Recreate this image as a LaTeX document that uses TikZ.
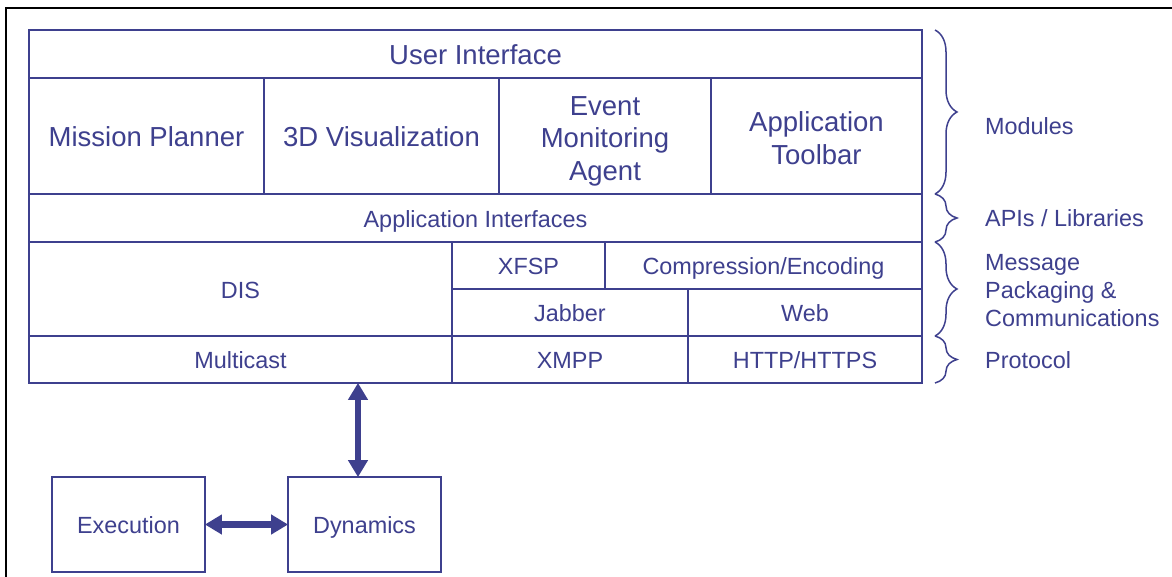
\documentclass[tikz,border=0pt]{standalone}
\usepackage{fontspec}
\setmainfont{Liberation Sans}
\usetikzlibrary{arrows.meta,decorations.pathreplacing}
\definecolor{navy}{RGB}{62,64,142}
\begin{document}
\begin{tikzpicture}[x=1pt,y=-1pt,
  cell/.style={draw=navy,line width=1.8pt,inner sep=0pt},
  txt/.style={inner sep=0pt,text=navy,font=\fontsize{23.4}{28}\selectfont,text height=16.8pt,text depth=0pt,yshift=-1pt},
  bigtxt/.style={inner sep=0pt,text=navy,font=\fontsize{27.5}{32.5}\selectfont,text height=19.7pt,text depth=0pt,yshift=-1pt},
  multi/.style={inner sep=0pt,align=center,text=navy,font=\fontsize{27.5}{32.5}\selectfont},
  lbl/.style={anchor=west,inner sep=0pt,text=navy,font=\fontsize{23.4}{28}\selectfont,text height=16.8pt,text depth=0pt},
  lblm/.style={anchor=west,inner sep=0pt,align=left,text=navy,font=\fontsize{23.4}{28}\selectfont},
  brc/.style={draw=navy,line width=1.5pt,decorate,decoration={brace,amplitude=22pt,aspect=0.5}},
  arr/.style={draw=navy,line width=6.5pt,{Triangle[length=17pt,width=19pt]}-{Triangle[length=17pt,width=19pt]},shorten <=-1pt,shorten >=-1pt}
]
\useasboundingbox (0,0) rectangle (1172,577);
\fill[white] (0,0) rectangle (1172,577);
% outer frame (partly cropped)
\draw[black,line width=2.2pt] (6,577) -- (6,8) -- (1172,8);
% top stack
\node[cell,minimum width=893pt,minimum height=48pt] (ui) at (475.5,54) {};
\node[bigtxt] (ui-t) at (ui.center) {User Interface};
\node[cell,minimum width=235pt,minimum height=116pt] (mp) at (146.5,136) {};
\node[bigtxt] (mp-t) at (mp.center) {Mission Planner};
\node[cell,minimum width=235pt,minimum height=116pt] (viz) at (381.5,136) {};
\node[bigtxt] (viz-t) at (viz.center) {3D Visualization};
\node[cell,minimum width=212pt,minimum height=116pt] (ema) at (605,136) {};
\node[multi,yshift=-5pt] (ema-t) at (ema.center) {Event\\Monitoring\\Agent};
\node[cell,minimum width=211pt,minimum height=116pt] (tb) at (816.5,136) {};
\node[multi,yshift=-2pt] (tb-t) at (tb.center) {Application\\Toolbar};
\node[cell,minimum width=893pt,minimum height=48pt] (ai) at (475.5,218) {};
\node[txt] (ai-t) at (ai.center) {Application Interfaces};
\node[cell,minimum width=423pt,minimum height=94pt] (dis) at (240.5,289) {};
\node[txt] (dis-t) at (dis.center) {DIS};
\node[cell,minimum width=153pt,minimum height=47pt] (xfsp) at (528.5,265.5) {};
\node[txt] (xfsp-t) at (xfsp.center) {XFSP};
\node[cell,minimum width=317pt,minimum height=47pt] (comp) at (763.5,265.5) {};
\node[txt] (comp-t) at (comp.center) {Compression/Encoding};
\node[cell,minimum width=236pt,minimum height=47pt] (jab) at (570,312.5) {};
\node[txt] (jab-t) at (jab.center) {Jabber};
\node[cell,minimum width=234pt,minimum height=47pt] (web) at (805,312.5) {};
\node[txt] (web-t) at (web.center) {Web};
\node[cell,minimum width=423pt,minimum height=47pt] (mc) at (240.5,359.5) {};
\node[txt] (mc-t) at (mc.center) {Multicast};
\node[cell,minimum width=236pt,minimum height=47pt] (xmpp) at (570,359.5) {};
\node[txt] (xmpp-t) at (xmpp.center) {XMPP};
\node[cell,minimum width=234pt,minimum height=47pt] (http) at (805,359.5) {};
\node[txt] (http-t) at (http.center) {HTTP/HTTPS};
% lower boxes
\node[cell,minimum width=153pt,minimum height=95pt] (exe) at (128.5,524.5) {};
\node[txt] (exe-t) at (exe.center) {Execution};
\node[cell,minimum width=153pt,minimum height=95pt] (dyn) at (364.5,524.5) {};
\node[txt] (dyn-t) at (dyn.center) {Dynamics};
% arrows
\coordinate (ax) at (358,0);
\draw[arr] (dyn.north -| ax) -- (mc.south -| ax);
\draw[arr] (exe.east) -- (dyn.west);
% braces
\draw[brc] (935,30) -- (935,194);
\draw[brc] (935,194) -- (935,242);
\draw[brc] (935,242) -- (935,336);
\draw[brc] (935,336) -- (935,383);
% labels
\node[lbl] (lmod) at (985,126) {Modules};
\node[lbl] (lapi) at (985,218) {APIs / Libraries};
\node[lblm] (lmsg) at (985,291) {Message\\Packaging \&\\Communications};
\node[lbl] (lpro) at (985,360) {Protocol};
\end{tikzpicture}
\end{document}
